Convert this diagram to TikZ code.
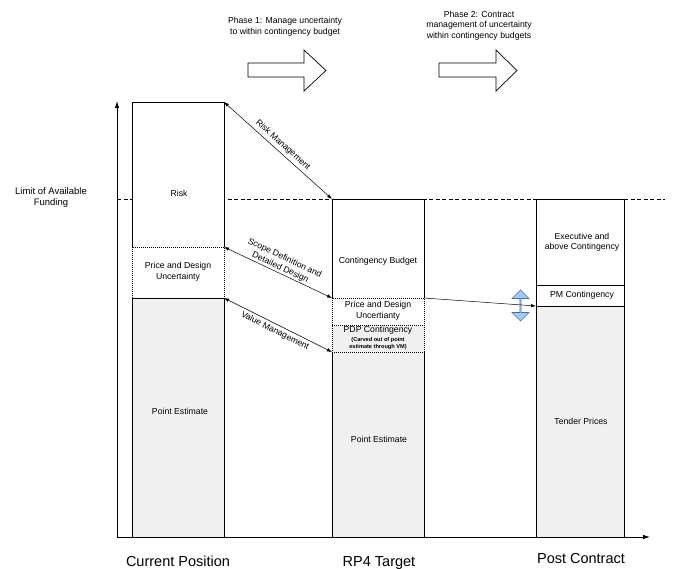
\documentclass[tikz,border=0pt]{standalone}
\usepackage{fontspec}
\setmainfont{Liberation Sans}
\usetikzlibrary{arrows.meta,shapes.arrows}
\definecolor{estgray}{HTML}{F0F0F0}
\definecolor{bluefill}{HTML}{99CCFF}
\definecolor{blueline}{HTML}{4F6D99}
\tikzset{
  seg/.style={inner sep=0pt, outer sep=0pt, anchor=north west, minimum width=92pt},
  lbl/.style={font=\fontsize{8.7}{10.5}\selectfont, align=center, inner sep=0pt},
  tinylbl/.style={font=\fontsize{5.6}{7.4}\selectfont\bfseries, align=center, inner sep=0pt},
  biglbl/.style={font=\fontsize{14.5}{17}\selectfont, inner sep=0pt, anchor=base},
  blockarrow/.style={draw, line width=0.7pt, fill=white},
  linkarrow/.style={{Latex[length=5pt,width=3.5pt]}-{Latex[length=5pt,width=3.5pt]}, line width=0.5pt},
  dotline/.style={dash pattern=on 1pt off 1pt, line width=0.7pt},
}
\begin{document}
\begin{tikzpicture}[x=1pt, y=-1pt, line width=0.8pt]
\useasboundingbox (0,0) rectangle (688,568);

% phase arrows and captions
\draw[blockarrow] (248,63) -- (304,63) -- (304,50) -- (326,70.5) -- (304,91) -- (304,77) -- (248,77) -- cycle;
\draw[blockarrow] (439,63) -- (496,63) -- (496,50) -- (517,70.5) -- (496,91) -- (496,77) -- (439,77) -- cycle;
\node[lbl] (phaseone) at (285,26.5) {Phase 1: Manage uncertainty\\to within contingency budget};
\node[lbl] (phasetwo) at (479,25.5) {Phase 2: Contract\\management of uncertainty\\within contingency budgets};

% axes
\coordinate (orig) at (117,537);
\coordinate (ytop) at (117,101);
\coordinate (xend) at (650,537);
\draw[-{Latex[length=7pt,width=4.5pt]}] (orig) -- (ytop);
\draw[-{Latex[length=7pt,width=4.5pt]}] (orig) -- (xend);

% funding limit
\draw[dash pattern=on 4pt off 2.5pt] (117,199) -- (665,199);
\node[font=\fontsize{9.5}{11.5}\selectfont, align=center, inner sep=0pt] (limit) at (51,197.5) {Limit of Available\\Funding};

% current position
\node[seg, fill=white, minimum height=145pt] (risk) at (132,102) {};
\node[seg, fill=white, minimum height=51pt] (pdu1) at (132,247) {};
\node[seg, fill=estgray, minimum height=239pt] (pe1) at (132,298) {};
\draw (pdu1.north west) -- (risk.north west) -- (risk.north east) -- (pdu1.north east);
\draw[dotline] (pdu1.north west) rectangle (pdu1.south east);
\draw (pe1.north west) rectangle (pe1.south east);

% RP4 target
\node[seg, fill=white, minimum height=99pt] (cb) at (332,199) {};
\node[seg, fill=white, minimum height=27pt] (pdu2) at (332,298) {};
\node[seg, fill=estgray, minimum height=27pt] (pdp) at (332,325) {};
\node[seg, fill=estgray, minimum height=185pt] (pe2) at (332,352) {};
\draw (pdu2.north west) -- (cb.north west) -- (cb.north east) -- (pdu2.north east);
\draw (pe2.north west) -- (pe2.south west) -- (pe2.south east) -- (pe2.north east);
\draw[dotline] (pdu2.north west) rectangle (pdp.south east);
\draw[dotline] (pdp.north west) -- (pdp.north east);

% post contract
\node[seg, minimum width=88pt, draw, fill=white, minimum height=86pt] (exec) at (536,199) {};
\node[seg, minimum width=88pt, draw, minimum height=21pt] (pm) at (536,285) {};
\node[seg, minimum width=88pt, draw, fill=estgray, minimum height=231pt] (tp) at (536,306) {};

% segment labels
\node[lbl] (risktxt) at (179,193) {Risk};
\node[lbl] (pdu1txt) at (178,271.5) {Price and Design\\Uncertainty};
\node[lbl] (pe1txt) at (180,411) {Point Estimate};
\node[lbl] (cbtxt) at (378,261) {Contingency Budget};
\node[lbl] (pdu2txt) at (378,310.5) {Price and Design\\Uncertianty};
\node[lbl] (pdptxt) at (378,330) {PDP Contingency};
\node[tinylbl] (carvedtxt) at (378,343.5) {(Carved out of point\\estimate through VM)};
\node[lbl] (pe2txt) at (379,439) {Point Estimate};
\node[lbl] (exectxt) at (582,242) {Executive and\\above Contingency};
\node[lbl] (pmtxt) at (582,295) {PM Contingency};
\node[lbl] (tptxt) at (581,421) {Tender Prices};

% stage names
\node[biglbl] (curpos) at (178,566.5) {Current Position};
\node[biglbl] (rpfour) at (379,566.5) {RP4 Target};
\node[biglbl] (postcon) at (581,563) {Post Contract};

% management links
\draw[linkarrow] (risk.north east) -- node[lbl, sloped, above=3pt] (riskmgmt) {Risk Management} (cb.north west);
\draw[linkarrow] (pdu1.north east) -- node[lbl, sloped, above=1pt] (scopedef) {Scope Definition and\\Detailed Design} (pdu2.north west);
\draw[linkarrow] (pe1.north east) -- node[lbl, sloped, below=2.5pt] (valmgmt) {Value Management} (pdp.south west);

% transfer to PM contingency
\node[double arrow, draw=blueline, fill=bluefill, line width=0.6pt, rotate=90, minimum height=31pt, minimum width=17pt, double arrow head extend=4pt, inner sep=0pt] (bluearrow) at (520.5,305.5) {};
\draw[-{Latex[length=5pt,width=3.5pt]}, line width=0.5pt] (pdu2.north east) -- (tp.north west);
\end{tikzpicture}
\end{document}
